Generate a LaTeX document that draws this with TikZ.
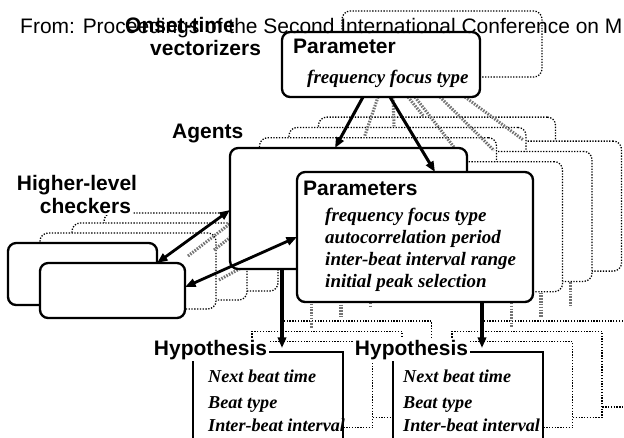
\documentclass[tikz,border=0pt]{standalone}
\usepackage{fontspec}
\setmainfont{Liberation Serif}
\newfontfamily\lsans{Liberation Sans}
\newfontfamily\lserif{Liberation Serif}
\usetikzlibrary{arrows.meta,fit}
\tikzset{
 solidbox/.style={draw, line width=2pt, rounded corners=7pt, fill=white, inner sep=0pt},
 ghostbox/.style={draw, line width=1.1pt, dash pattern=on 1.1pt off 1.3pt, rounded corners=7pt, fill=white, inner sep=0pt},
 hypbox/.style={draw, line width=1.3pt, fill=white, inner sep=0pt},
 ghosthyp/.style={draw, line width=1.1pt, dash pattern=on 1.1pt off 1.3pt, fill=white, inner sep=0pt},
 arr/.style={line width=2.6pt, -{Triangle[length=9pt,width=7pt]}},
 darr/.style={line width=2.4pt, {Triangle[length=9pt,width=7pt]}-{Triangle[length=9pt,width=7pt]}},
 harr/.style={line width=2.6pt, black!55, dash pattern=on 1.3pt off 1.1pt, -{Triangle[length=8pt,width=6pt]}},
 hline/.style={line width=2.6pt, black!55, dash pattern=on 1.3pt off 1.1pt},
 lbl/.style={font=\lsans\bfseries\fontsize{17.9}{20}\selectfont, inner sep=0pt, anchor=base west},
 wlbl/.style={lbl, fill=white, inner sep=1.5pt},
 ttl/.style={font=\lsans\fontsize{17.9}{20}\selectfont, inner sep=0pt, anchor=base west},
 itl/.style={font=\lserif\bfseries\itshape\fontsize{16.2}{19}\selectfont, inner sep=0pt, anchor=base west},
 hitl/.style={font=\lserif\bfseries\itshape\fontsize{15.5}{18}\selectfont, inner sep=0pt, anchor=base west},
}
\begin{document}
\begin{tikzpicture}[x=0.03cm, y=-0.03cm]
\useasboundingbox (0,0) rectangle (624,437);
\clip (0,0) rectangle (624,437);
\fill[white] (0,0) rectangle (624,437);

% ghost vectorizer
\node[ghostbox, fit={(342,11) (542,77)}] (gvec) {};

% ghost agents and hypotheses
\foreach \k in {3,2,1}{
  \pgfmathsetmacro{\dx}{29.5*\k}
  \pgfmathsetmacro{\dy}{-10.3*\k}
  \node[ghosthyp, fit={(193+\dx,352+\dy) (343+\dx,438+\dy)}] (ghA\k) {};
  \node[ghosthyp, fit={(393+\dx,352+\dy) (543+\dx,438+\dy)}] (ghB\k) {};
  \node[ghostbox, fit={(230+\dx,148+\dy) (467+\dx,269+\dy)}] (gag\k) {};
  \node[ghostbox, fit={(297+\dx,172+\dy) (533+\dx,302+\dy)}] (gpar\k) {};
  \coordinate (gd1s\k) at (282+\dx,269+\dy);
  \coordinate (gd1e\k) at (282+\dx,338+\dy);
  \coordinate (gd2s\k) at (482+\dx,302+\dy);
  \coordinate (gd2e\k) at (482+\dx,338+\dy);
  \draw[hline] (gd1s\k) -- (gd1e\k);
  \draw[hline] (gd2s\k) -- (gd2e\k);
}
% ghost arrows from the vectorizer
\foreach \k in {3,2,1}{
  \coordinate (gv1s\k) at (363+15*\k,97);
  \coordinate (gv1e\k) at (335+29.5*\k,147-10.3*\k);
  \coordinate (gv2s\k) at (390+25*\k,97);
  \coordinate (gv2e\k) at (435+29.5*\k,171-10.3*\k);
  \draw[hline] (gv1s\k) -- (gv1e\k);
}
\draw[harr] (gv2s1) -- (gv2e1);
\draw[hline] (gv2s2) -- (gv2e2);
\draw[hline] (gv2s3) -- (gv2e3);

% ghost checkers
\foreach \k in {3,2,1}{
  \node[ghostbox, fit={(8+32*\k,243-10*\k) (185+31*\k,318-9*\k)}] (gchk\k) {};
}
\coordinate (gc1s) at (188,256);
\coordinate (gc1e) at (240,216);
\coordinate (gc2s) at (214,250);
\coordinate (gc2e) at (250,222);
\coordinate (gc3s) at (219,280);
\coordinate (gc3e) at (300,236);
\draw[hline] (gc1s) -- (gc1e);
\draw[hline] (gc2s) -- (gc2e);
\draw[hline] (gc3s) -- (gc3e);

% front vectorizer
\node[solidbox, fit={(282,32) (480,97)}] (vec) {};
\node[lbl] (vect) at (293,53) {Parameter};
\node[itl] (vecf) at (307,83) {frequency focus type};

% front agent
\node[solidbox, fit={(230,148) (467,269)}] (agent) {};
\node[solidbox, fit={(297,172) (533,302)}] (par) {};
\node[lbl] (part) at (303,195) {Parameters};
\node[itl] (p1) at (325,221) {frequency focus type};
\node[itl] (p2) at (325,243) {autocorrelation period};
\node[itl] (p3) at (325,265) {inter-beat interval range};
\node[itl] (p4) at (325,287) {initial peak selection};

% checkers
\node[solidbox, fit={(8,243) (157,305)}] (chkA) {};
\node[solidbox, fit={(40,263) (185,318)}] (chkB) {};

% front arrows
\coordinate (v1s) at (363,97);
\coordinate (v1e) at (335,148);
\coordinate (v2s) at (390,97);
\coordinate (v2e) at (435,172);
\draw[arr] (v1s) -- (v1e);
\draw[arr] (v2s) -- (v2e);
\coordinate (c1s) at (157,263);
\coordinate (c1e) at (230,210);
\coordinate (c2s) at (185,287);
\coordinate (c2e) at (297,237);
\draw[darr] (c1s) -- (c1e);
\draw[darr] (c2s) -- (c2e);
\coordinate (d1s) at (282,269);
\coordinate (d1e) at (282,348);
\coordinate (d2s) at (482,302);
\coordinate (d2e) at (482,348);

% hypotheses
\node[hypbox, fit={(193,352) (343,440)}] (hypA) {};
\node[hypbox, fit={(393,352) (543,440)}] (hypB) {};
\draw[arr] (d1s) -- (d1e);
\draw[arr] (d2s) -- (d2e);
\node[wlbl] (hypAt) at (152,355) {Hypothesis};
\node[wlbl] (hypBt) at (353,355) {Hypothesis};
\node[hitl] (ha1) at (208,382) {Next beat time};
\node[hitl] (ha2) at (208,408) {Beat type};
\node[hitl] (ha3) at (208,431) {Inter-beat interval};
\node[hitl] (hb1) at (403,382) {Next beat time};
\node[hitl] (hb2) at (403,408) {Beat type};
\node[hitl] (hb3) at (403,431) {Inter-beat interval};

% labels
\node[lbl] (agentsl) at (172,138) {Agents};
\node[wlbl] (hl1) at (15,190) {Higher-level};
\node[wlbl] (hl2) at (38,213) {checkers};
\node[ttl] (title) at (20,33) {From: Proceedings of the Second International Conference on M};
\node[lbl] (on1) at (125,32) {Onset-time};
\node[lbl] (on2) at (150,55) {vectorizers};
\end{tikzpicture}
\end{document}
